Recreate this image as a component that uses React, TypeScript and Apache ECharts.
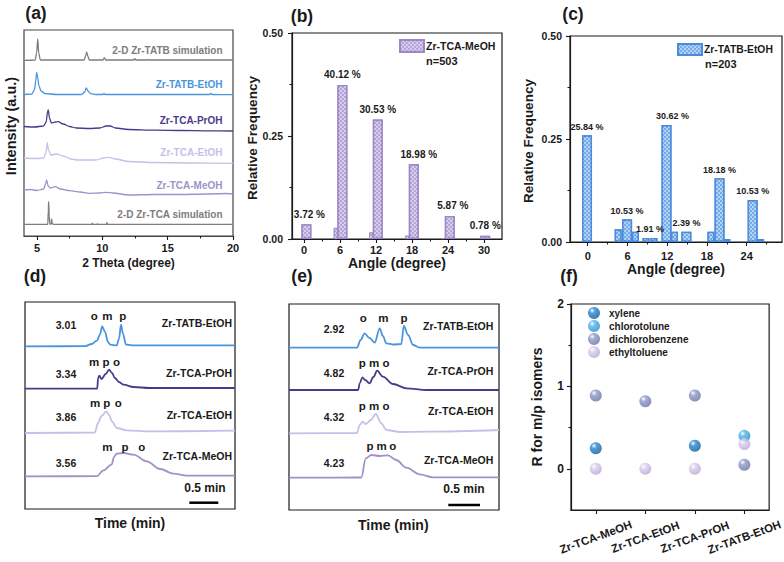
import React, { useEffect, useRef } from "react";
import * as echarts from "echarts";

const FONT = '"Liberation Sans", Arial, Helvetica, sans-serif';
const INK = "#1a1a1a";

// ---------- (a) PXRD: [2θ (degree), stacked intensity (a.u.)] ----------
const xrdTatbSim = [[4, 175.7], [4.85, 175.8], [4.97, 183], [5.05, 197], [5.13, 183], [5.25, 176], [8.6, 176], [8.72, 180], [8.8, 184], [8.88, 180], [9.0, 176], [10.05, 176], [10.15, 178.3], [10.25, 176], [12.4, 176], [12.48, 177.3], [12.56, 176], [13.45, 176], [13.5, 176.6], [13.55, 176], [20, 176]];
const xrdTatbEtOH = [[4, 141.5], [4.6, 142], [4.8, 146], [4.9, 155], [4.97, 163.7], [5.05, 158], [5.15, 150], [5.3, 145], [5.6, 142.5], [6.5, 141.5], [8.4, 141.5], [8.65, 144], [8.77, 148], [8.9, 145], [9.1, 142.3], [9.5, 141.5], [10.05, 141.5], [10.12, 142.5], [10.2, 141.5], [18.2, 141.5], [18.3, 142.5], [18.4, 141.5], [20, 141.3]];
const xrdTcaPrOH = [[4, 109.5], [4.8, 109], [5.5, 110], [5.7, 114], [5.8, 124], [5.86, 126], [5.95, 118], [6.1, 113], [6.4, 114], [6.6, 114.3], [7.0, 112], [7.5, 109.5], [8, 108], [9, 107.5], [9.8, 108], [10.3, 110], [10.6, 110], [11, 108], [12, 106.5], [14, 105.8], [16, 105.5], [18, 105.2], [20, 105]];
const xrdTcaEtOH = [[4, 78], [5, 77.5], [5.5, 78], [5.68, 83], [5.78, 93.3], [5.88, 86], [6.05, 81], [6.5, 82], [7, 80], [7.6, 77], [8.1, 76], [9.5, 76], [10.1, 78], [10.5, 78.7], [11, 77], [12, 74.5], [14, 73.5], [17, 73], [20, 72.7]];
const xrdTcaMeOH = [[4, 46], [4.5, 46.5], [5, 45.5], [5.5, 47], [5.65, 52], [5.73, 56], [5.85, 50], [6, 48], [6.4, 49.3], [6.8, 47], [7.5, 45.3], [8.3, 44], [9, 42.7], [9.8, 43], [10.3, 43.7], [10.8, 43], [12, 41], [14, 41.5], [16, 41.5], [18, 42], [19.5, 42.5], [20, 42]];
const xrdTcaSim = [[4, 11.7], [5.82, 11.7], [5.86, 25], [5.89, 34.3], [5.93, 20], [5.98, 11.8], [6.08, 12], [6.12, 17], [6.17, 12], [6.3, 11.7], [9.2, 11.7], [9.23, 12.8], [9.27, 11.7], [9.6, 11.7], [9.63, 12.3], [9.66, 11.7], [10.32, 11.7], [10.35, 13.7], [10.39, 11.7], [20, 11.7]];
const xrdNames = ["2-D Zr-TATB simulation", "Zr-TATB-EtOH", "Zr-TCA-PrOH", "Zr-TCA-EtOH", "Zr-TCA-MeOH", "2-D Zr-TCA simulation"];
const xrdTicks = [5, 10, 15, 20];
const xrdMinorTicks = [7.5, 12.5, 17.5];

// ---------- (b) Zr-TCA-MeOH angle histogram ----------
const bMainAngle = [0.4, 6.4, 12.3, 18.3, 24.3, 30.2];
const bMainFreq = [0.036, 0.374, 0.29, 0.182, 0.056, 0.008];
const bMainText = ["3.72 %", "40.12 %", "30.53 %", "18.98 %", "5.87 %", "0.78 %"];
const bSideAngle = [5.3, 11.2, 17.2, 23.1];
const bSideFreq = [0.027, 0.016, 0.008, 0.002];
const bTicks = [0, 6, 12, 18, 24, 30];
const bMinorTicks = [3, 9, 15, 21, 27];

// ---------- (c) Zr-TATB-EtOH angle histogram ----------
const cMainAngle = [-0.1, 5.95, 11.9, 14.9, 19.9, 24.9];
const cMainFreq = [0.259, 0.055, 0.284, 0.025, 0.155, 0.102];
const cMainText = ["25.84 %", "10.53 %", "30.62 %", "2.39 %", "18.18 %", "10.53 %"];
const cSideAngle = [4.6, 7.2, 8.8, 10.0, 13.1, 18.6, 21.0, 26.1];
const cSideFreq = [0.031, 0.025, 0.01, 0.01, 0.025, 0.025, 0.007, 0.007];
const cSideText = ["", "", "1.91 %", "", "", "", "", ""];
const cTicks = [0, 6, 12, 18, 24];
const cMinorTicks = [3, 9, 15, 21, 27];

// ---------- (d) GC traces, first isomer set: [time (min), signal] ----------
const dTatbEtOH = [[0, 162.6], [1.03, 162.8], [1.15, 165], [1.24, 168.3], [1.29, 174], [1.33, 182.6], [1.38, 177], [1.43, 167], [1.47, 164.3], [1.58, 163.6], [1.62, 170], [1.655, 184.3], [1.69, 175], [1.74, 164.5], [1.85, 163.6], [3.62, 163.6]];
const dTcaPrOH = [[0, 120.3], [1.245, 120.3], [1.26, 131], [1.28, 133.3], [1.32, 130], [1.39, 135], [1.45, 139.3], [1.5, 136], [1.55, 131], [1.62, 127], [1.7, 124.3], [1.87, 122], [2.15, 121], [3.62, 121]];
const dTcaEtOH = [[0, 76], [1.2, 76.3], [1.26, 86], [1.32, 93], [1.4, 97.6], [1.45, 94], [1.5, 87.6], [1.58, 81], [1.75, 78.6], [2.15, 77.6], [3.62, 78.3]];
const dTcaMeOH = [[0, 32.6], [1.24, 32.8], [1.35, 38.6], [1.49, 44.3], [1.54, 52.6], [1.58, 55.3], [1.7, 56], [1.87, 54.3], [2.1, 47.6], [2.33, 40], [2.56, 35.3], [2.79, 33.3], [3.62, 33.3]];
const dValues = ["3.01", "3.34", "3.86", "3.56"];

// ---------- (e) GC traces, second isomer set ----------
const eTatbEtOH = [[0, 162.3], [1.07, 162.3], [1.13, 170], [1.19, 176.7], [1.27, 172], [1.35, 167.3], [1.43, 181.7], [1.48, 174], [1.535, 166.7], [1.65, 165.5], [1.77, 166], [1.81, 184], [1.877, 175], [1.956, 165], [2.06, 162.3], [3.31, 162.3]];
const eTcaPrOH = [[0, 120], [1.09, 120], [1.115, 126.7], [1.157, 132.7], [1.2, 130], [1.27, 126.7], [1.33, 133], [1.39, 139.3], [1.48, 133.3], [1.64, 126], [1.85, 121.7], [2.17, 120], [3.31, 120]];
const eTcaEtOH = [[0, 76.7], [1.07, 76.8], [1.115, 85], [1.157, 88.3], [1.21, 86], [1.29, 90], [1.367, 96], [1.456, 86.7], [1.535, 80], [1.75, 78], [2.17, 78.3], [3.31, 80]];
const eTcaMeOH = [[0, 32.3], [1.14, 32.5], [1.21, 51.7], [1.3, 55], [1.43, 54], [1.56, 54.7], [1.69, 50], [1.85, 42.3], [2.06, 35.7], [2.27, 32.7], [3.31, 32.7]];
const eValues = ["2.92", "4.82", "4.32", "4.23"];
const gcNames = ["Zr-TATB-EtOH", "Zr-TCA-PrOH", "Zr-TCA-EtOH", "Zr-TCA-MeOH"];

// ---------- (f) R for m/p isomers ----------
const fCats = ["Zr-TCA-MeOH", "Zr-TCA-EtOH", "Zr-TCA-PrOH", "Zr-TATB-EtOH"];
const fXylene = [0.25, null, 0.28, null];
const fChloro = [null, null, null, 0.4];
const fDichloro = [0.89, 0.82, 0.89, 0.05];
const fEthyl = [0, 0, 0, 0.3];
const fNames = ["xylene", "chlorotolune", "dichlorobenzene", "ethyltoluene"];

const C_GRAY = "#7d7d7d";
const C_BLUE = "#4a95de";
const C_DARK = "#483b8b";
const C_LIGHT = "#c6c0e8";
const C_MID = "#a092c8";

function txt(text: string, x: number, y: number, o: any = {}) {
  return {
    type: "text",
    x,
    y,
    rotation: o.r || 0,
    silent: true,
    z: 100,
    style: {
      text,
      fill: o.fill || INK,
      fontFamily: FONT,
      fontWeight: o.w || "bold",
      fontSize: o.s || 10,
      align: o.a || "center",
      verticalAlign: "middle",
    },
  };
}

function hline(x1: number, x2: number, y: number) {
  return { type: "line", silent: true, z: 100, shape: { x1, y1: y, x2, y2: y }, style: { stroke: "#000", lineWidth: 2.5 } };
}

const sphere = (base: string, dark: string) => ({
  type: "radial",
  x: 0.35,
  y: 0.3,
  r: 0.75,
  colorStops: [
    { offset: 0, color: "#ffffff" },
    { offset: 0.3, color: base },
    { offset: 1, color: dark },
  ],
});

const decal = {
  symbol: "diamond",
  symbolSize: 1,
  color: "rgba(255,255,255,0.9)",
  dashArrayX: [[2, 2], [0, 2, 2, 0]],
  dashArrayY: [2, 0],
};

const PURPLE_BAR = { color: "#b5a4d8", borderColor: "#9c88c8", borderWidth: 1.4, decal };
const BLUE_BAR = { color: "#74abea", borderColor: "#4a8cdb", borderWidth: 1.4, decal };

const tickStyle = { color: INK, width: 1.1 };
const labelStyle = { fontFamily: FONT, fontWeight: "bold", color: INK };

function buildOption() {
  const xrdSets = [xrdTatbSim, xrdTatbEtOH, xrdTcaPrOH, xrdTcaEtOH, xrdTcaMeOH, xrdTcaSim];
  const xrdColors = [C_GRAY, C_BLUE, C_DARK, C_LIGHT, C_MID, C_GRAY];
  const gcColors = [C_BLUE, C_DARK, C_LIGHT, C_MID];
  const dSets = [dTatbEtOH, dTcaPrOH, dTcaEtOH, dTcaMeOH];
  const eSets = [eTatbEtOH, eTcaPrOH, eTcaEtOH, eTcaMeOH];

  const series: any[] = [];
  xrdSets.forEach((d, i) =>
    series.push({
      type: "line", name: "XRD " + xrdNames[i], xAxisIndex: 0, yAxisIndex: 0, data: d,
      showSymbol: false, smooth: 0.3, smoothMonotone: "x",
      lineStyle: { color: xrdColors[i], width: 1.3 }, itemStyle: { color: xrdColors[i] },
    })
  );
  // (b)
  series.push({
    type: "bar", name: "b-side", xAxisIndex: 3, yAxisIndex: 1, barWidth: 4,
    data: bSideAngle.map((x, i) => [x, bSideFreq[i]]),
    itemStyle: { ...PURPLE_BAR, borderWidth: 0.8 },
  });
  series.push({
    type: "bar", name: "Zr-TCA-MeOH", xAxisIndex: 2, yAxisIndex: 1, barWidth: 10,
    data: bMainAngle.map((x, i) => ({
      value: [x, bMainFreq[i]],
      label: { formatter: bMainText[i], offset: [i === 3 ? 5 : i === 0 || i === 4 ? 3 : 0, 0] },
    })),
    label: { show: true, position: "top", distance: 5, fontFamily: FONT, fontWeight: "bold", fontSize: 10, color: INK },
    itemStyle: PURPLE_BAR,
  });
  // (c)
  series.push({
    type: "bar", name: "c-side", xAxisIndex: 5, yAxisIndex: 2, barWidth: 7,
    data: cSideAngle.map((x, i) => ({
      value: [x, cSideFreq[i]],
      label: { show: cSideText[i] !== "", formatter: cSideText[i], offset: [4, 0] },
    })),
    label: { position: "top", distance: 4, fontFamily: FONT, fontWeight: "bold", fontSize: 9, color: INK },
    itemStyle: BLUE_BAR,
  });
  series.push({
    type: "bar", name: "Zr-TATB-EtOH", xAxisIndex: 4, yAxisIndex: 2, barWidth: 10,
    data: cMainAngle.map((x, i) => ({
      value: [x, cMainFreq[i]],
      label: { formatter: cMainText[i], offset: [i === 2 ? 6 : 0, 0] },
    })),
    label: { show: true, position: "top", distance: 4, fontFamily: FONT, fontWeight: "bold", fontSize: 9, color: INK },
    itemStyle: BLUE_BAR,
  });
  // (d), (e)
  dSets.forEach((d, i) =>
    series.push({
      type: "line", name: "GC-d " + gcNames[i], xAxisIndex: 6, yAxisIndex: 3, data: d,
      showSymbol: false, smooth: 0.35, smoothMonotone: "x",
      lineStyle: { color: gcColors[i], width: 1.8 }, itemStyle: { color: gcColors[i] },
    })
  );
  eSets.forEach((d, i) =>
    series.push({
      type: "line", name: "GC-e " + gcNames[i], xAxisIndex: 7, yAxisIndex: 4, data: d,
      showSymbol: false, smooth: 0.35, smoothMonotone: "x",
      lineStyle: { color: gcColors[i], width: 1.8 }, itemStyle: { color: gcColors[i] },
    })
  );
  // (f)
  const fSets = [fXylene, fChloro, fDichloro, fEthyl];
  const fColors = [sphere("#2a86cf", "#0e5a9a"), sphere("#4fb5e8", "#2a8cc6"), sphere("#8e9aca", "#65729f"), sphere("#dacdeb", "#b5a4d3")];
  fSets.forEach((d, i) =>
    series.push({
      type: "scatter", name: fNames[i], xAxisIndex: 8, yAxisIndex: 5, data: d,
      symbol: "circle", symbolSize: 12, itemStyle: { color: fColors[i] },
    })
  );

  const grids = [
    { left: 24, top: 30, width: 209, height: 206 },
    { left: 292, top: 33, width: 210, height: 206 },
    { left: 570, top: 36, width: 212, height: 206 },
    { left: 25, top: 302, width: 210, height: 207 },
    { left: 289, top: 304, width: 210, height: 206 },
    { left: 571, top: 304, width: 209, height: 206 },
  ].map((g, i) => ({ ...g, show: true, borderColor: i === 0 ? "#444" : INK, borderWidth: 1.2, backgroundColor: "transparent" }));

  const hidden = { show: false };
  const xAxis: any[] = [
    {
      gridIndex: 0, type: "value", min: 4, max: 20, position: "bottom",
      axisLine: { show: true, onZero: false, lineStyle: { color: "#444", width: 1.2 } },
      axisTick: { show: true, customValues: xrdTicks, length: 4, lineStyle: tickStyle },
      axisLabel: { customValues: xrdTicks, margin: 6, fontSize: 11, ...labelStyle },
      splitLine: hidden,
      name: "2 Theta (degree)", nameLocation: "middle", nameGap: 21,
      nameTextStyle: { fontSize: 12, ...labelStyle },
    },
    {
      gridIndex: 0, type: "value", min: 4, max: 20, position: "bottom",
      axisLine: { show: false, onZero: false }, axisTick: { show: true, customValues: xrdMinorTicks, length: 2.5, lineStyle: tickStyle },
      axisLabel: { show: false }, splitLine: hidden,
    },
    {
      gridIndex: 1, type: "value", min: -2, max: 33, position: "bottom",
      axisLine: { show: true, onZero: false, lineStyle: { color: INK, width: 1.2 } },
      axisTick: { show: true, customValues: bTicks, length: 4, lineStyle: tickStyle },
      axisLabel: { customValues: bTicks, margin: 5, fontSize: 11, ...labelStyle },
      splitLine: hidden,
      name: "Angle (degree)", nameLocation: "middle", nameGap: 16,
      nameTextStyle: { fontSize: 14, ...labelStyle },
    },
    {
      gridIndex: 1, type: "value", min: -2, max: 33, position: "bottom",
      axisLine: { show: false, onZero: false }, axisTick: { show: true, customValues: bMinorTicks, length: 2.5, lineStyle: tickStyle },
      axisLabel: { show: false }, splitLine: hidden,
    },
    {
      gridIndex: 2, type: "value", min: -2.67, max: 29.33, position: "bottom",
      axisLine: { show: true, onZero: false, lineStyle: { color: INK, width: 1.2 } },
      axisTick: { show: true, customValues: cTicks, length: 4, lineStyle: tickStyle },
      axisLabel: { customValues: cTicks, margin: 8, fontSize: 11, ...labelStyle },
      splitLine: hidden,
      name: "Angle (degree)", nameLocation: "middle", nameGap: 17,
      nameTextStyle: { fontSize: 14, ...labelStyle },
    },
    {
      gridIndex: 2, type: "value", min: -2.67, max: 29.33, position: "bottom",
      axisLine: { show: false, onZero: false }, axisTick: { show: true, customValues: cMinorTicks, length: 2.5, lineStyle: tickStyle },
      axisLabel: { show: false }, splitLine: hidden,
    },
    { gridIndex: 3, type: "value", min: 0, max: 3.62, show: false },
    { gridIndex: 4, type: "value", min: 0, max: 3.31, show: false },
    {
      gridIndex: 5, type: "category", data: fCats, position: "bottom", boundaryGap: true,
      axisLine: { show: true, onZero: false, lineStyle: { color: INK, width: 1.2 } },
      axisTick: { show: true, alignWithLabel: true, length: 4, lineStyle: tickStyle },
      axisLabel: { rotate: 20, align: "center", verticalAlign: "middle", margin: 27, fontSize: 11.5, interval: 0, ...labelStyle },
      splitLine: hidden,
    },
  ];

  const yAxis: any[] = [
    { gridIndex: 0, type: "value", min: 0, max: 206, show: false },
    {
      gridIndex: 1, type: "value", min: 0, max: 0.5, interval: 0.25, position: "left",
      axisLine: { show: true, onZero: false, lineStyle: { color: INK, width: 1.2 } },
      axisTick: { show: true, length: 4, lineStyle: tickStyle },
      minorTick: { show: true, splitNumber: 2, length: 2.5, lineStyle: tickStyle },
      axisLabel: { margin: 9, fontSize: 10.5, formatter: (v: number) => v.toFixed(2), ...labelStyle },
      splitLine: hidden, minorSplitLine: hidden,
    },
    {
      gridIndex: 2, type: "value", min: 0, max: 0.5, interval: 0.25, position: "left",
      axisLine: { show: true, onZero: false, lineStyle: { color: INK, width: 1.2 } },
      axisTick: { show: true, length: 4, lineStyle: tickStyle },
      minorTick: { show: true, splitNumber: 2, length: 2.5, lineStyle: tickStyle },
      axisLabel: { margin: 8, fontSize: 10.5, formatter: (v: number) => v.toFixed(2), ...labelStyle },
      splitLine: hidden, minorSplitLine: hidden,
    },
    { gridIndex: 3, type: "value", min: 0, max: 207, show: false },
    { gridIndex: 4, type: "value", min: 0, max: 206, show: false },
    {
      gridIndex: 5, type: "value", min: -0.5, max: 2, position: "left",
      axisLine: { show: true, onZero: false, lineStyle: { color: INK, width: 1.2 } },
      axisTick: { show: true, customValues: [0, 1, 2], length: 4, lineStyle: tickStyle },
      axisLabel: { customValues: [0, 1, 2], margin: 7, fontSize: 12, ...labelStyle },
      splitLine: hidden,
    },
    {
      gridIndex: 5, type: "value", min: -0.5, max: 2, position: "left",
      axisLine: { show: false, onZero: false },
      axisTick: { show: true, customValues: [0.5, 1.5], length: 2.5, lineStyle: tickStyle },
      axisLabel: { show: false }, splitLine: hidden,
    },
  ];

  const legendText = { fontFamily: FONT, fontWeight: "bold", color: INK };
  const legend: any[] = [
    {
      left: 399, top: 39, padding: 0, itemWidth: 24, itemHeight: 12, icon: "rect", selectedMode: false,
      data: ["Zr-TCA-MeOH"], textStyle: { ...legendText, fontSize: 10.5, padding: [0, 0, 0, -3] },
    },
    {
      left: 677, top: 43, padding: 0, itemWidth: 24, itemHeight: 11, icon: "rect", selectedMode: false,
      data: ["Zr-TATB-EtOH"], textStyle: { ...legendText, fontSize: 10.3, padding: [0, 0, 0, -3] },
    },
    {
      left: 588, top: 307, padding: 0, orient: "vertical", itemWidth: 12, itemHeight: 12, itemGap: 1, icon: "circle",
      selectedMode: false, data: fNames, textStyle: { ...legendText, fontSize: 10, padding: [0, 0, 0, 4] },
    },
  ];

  const graphic: any[] = [];
  ([["(a)", 36, 13], ["(b)", 302, 16], ["(c)", 573, 13.5], ["(d)", 35, 276], ["(e)", 302, 276], ["(f)", 569, 276]] as any[]).forEach(
    ([t, x, y]) => graphic.push(txt(t, x, y, { s: 17.5 }))
  );
  graphic.push(txt("Intensity (a.u.)", 10.5, 126, { s: 14.5, r: Math.PI / 2 }));
  graphic.push(txt("Relative Frequency", 252, 138, { s: 13.5, r: Math.PI / 2 }));
  graphic.push(txt("Relative Frequency", 528, 141, { s: 13.5, r: Math.PI / 2 }));
  graphic.push(txt("R for m/p isomers", 537, 407, { s: 14, r: Math.PI / 2 }));
  [50, 84, 120, 152, 185, 214].forEach((y, i) => graphic.push(txt(xrdNames[i], 222.5, y, { s: 10, a: "right", fill: xrdColors[i] })));
  graphic.push(txt("n=503", 426, 61, { s: 11, a: "left" }));
  graphic.push(txt("n=203", 705, 63.5, { s: 11, a: "left" }));
  const dLetters: any[] = [
    [["o", 94.3], ["m", 107.3], ["p", 122.7], 316],
    [["m", 94], ["p", 106], ["o", 116.5], 361.7],
    [["m", 95], ["p", 106.7], ["o", 118.3], 402.7],
    [["m", 107.3], ["p", 125], ["o", 141.7], 446.7],
  ];
  dLetters.forEach((row) => {
    const y = row[3];
    for (let k = 0; k < 3; k++) graphic.push(txt(row[k][0], row[k][1], y, { s: 11.5 }));
  });
  [325, 374.3, 416.7, 462.7].forEach((y, i) => graphic.push(txt(dValues[i], 66, y, { s: 10.5 })));
  [322.7, 373.3, 415, 456].forEach((y, i) => graphic.push(txt(gcNames[i], 232, y, { s: 10.5, a: "right" })));
  graphic.push(hline(189.3, 218.3, 502.7));
  graphic.push(txt("0.5 min", 205, 488.3, { s: 12 }));
  graphic.push(txt("Time (min)", 130, 523, { s: 14 }));
  const eLetters: any[] = [
    [["o", 363.3], ["m", 383.3], ["p", 404], 318.3],
    [["p", 362.3], ["m", 374], ["o", 386], 362.7],
    [["p", 362.3], ["m", 374], ["o", 386], 406],
    [["p", 370], ["m", 381.7], ["o", 392.7], 446],
  ];
  eLetters.forEach((row) => {
    const y = row[3];
    for (let k = 0; k < 3; k++) graphic.push(txt(row[k][0], row[k][1], y, { s: 11.5 }));
  });
  [329.3, 373.3, 416.7, 463.3].forEach((y, i) => graphic.push(txt(eValues[i], 334, y, { s: 10.5 })));
  [326, 370.7, 411, 460].forEach((y, i) => graphic.push(txt(gcNames[i], 493.3, y, { s: 10.5, a: "right" })));
  graphic.push(hline(448.3, 480, 505));
  graphic.push(txt("0.5 min", 464, 489.3, { s: 12 }));
  graphic.push(txt("Time (min)", 393.3, 525, { s: 14 }));

  return {
    animation: false,
    backgroundColor: "#ffffff",
    textStyle: { fontFamily: FONT },
    grid: grids,
    xAxis,
    yAxis,
    legend,
    series,
    graphic,
  };
}

export default function App() {
  const ref = useRef<HTMLDivElement>(null);
  useEffect(() => {
    if (!ref.current) return;
    const chart = echarts.init(ref.current, undefined, { renderer: "svg" });
    chart.setOption(buildOption() as any);
    return () => chart.dispose();
  }, []);
  return <div ref={ref} style={{ position: "fixed", left: 0, top: 0, width: 784, height: 562, background: "#fff" }} />;
}
